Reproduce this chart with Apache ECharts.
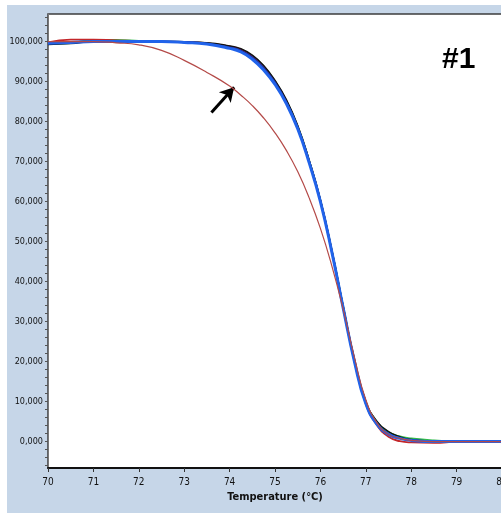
<!DOCTYPE html>
<html>
<head>
<meta charset="utf-8">
<script src="https://cdn.jsdelivr.net/npm/echarts@6/dist/echarts.min.js"></script>
<style>
  html, body { margin: 0; padding: 0; background: #fff; }
  #wrap { position: relative; width: 501px; height: 513px; background: #fff; }
  #bg { position: absolute; left: 7px; top: 5px; right: 0; bottom: 0; background: #c6d6e8; }
  #chart { position: absolute; left: 0; top: 0; width: 501px; height: 513px; }
</style>
</head>
<body>
<div id="wrap">
  <div id="bg"></div>
  <div id="chart"></div>
</div>
<script>
// 温度 (°C)
const temps = [70, 70.5, 71, 71.5, 72, 72.5, 73, 73.5, 74, 74.25, 74.5, 74.75, 75, 75.25, 75.5, 75.75, 76, 76.25, 76.5, 76.75, 77, 77.25, 77.5, 77.75, 78, 78.5, 79, 79.5, 80];
const xTicks = [70, 71, 72, 73, 74, 75, 76, 77, 78, 79, 80];
const yTicks = [0, 10, 20, 30, 40, 50, 60, 70, 80, 90, 100];

// melting curves (relative signal %)
const blueVals  = [99.6, 99.8, 100, 100, 100, 100, 99.8, 99.4, 98.3, 97.4, 95.6, 92.9, 89.3, 84.5, 78.2, 69.8, 60.0, 47.5, 33.5, 20.0, 9.5, 4.3, 1.8, 0.8, 0.3, 0, 0, 0, 0];
const navyVals  = [99.7, 99.9, 100, 100, 100, 100, 99.9, 99.5, 98.6, 97.8, 96.1, 93.5, 89.9, 85.0, 78.7, 70.2, 60.3, 47.8, 33.7, 20.2, 9.7, 4.5, 2.0, 0.9, 0.4, 0.1, 0, 0, 0];
const blackVals = [99.3, 99.5, 100, 100, 100, 100, 99.9, 99.7, 98.9, 98.2, 96.6, 94.0, 90.3, 85.5, 79.0, 70.5, 60.5, 48.0, 34.0, 20.5, 10.0, 5.0, 2.5, 1.2, 0.5, 0.1, 0, 0, 0];
const greenVals = [99.4, 99.6, 100.4, 100.4, 100.2, 100, 99.9, 99.6, 98.8, 98.0, 96.4, 93.8, 90.1, 85.2, 78.8, 70.3, 60.3, 47.8, 33.8, 20.3, 9.9, 4.9, 2.4, 1.3, 0.8, 0.3, 0.1, 0, 0];
const redVals   = [99.8, 100.5, 100.5, 100.3, 100.1, 100, 99.9, 99.6, 98.8, 98.0, 96.3, 93.6, 90.0, 85.1, 78.6, 70.1, 60.2, 47.6, 33.6, 20.0, 9.4, 4.0, 1.2, 0.1, -0.2, -0.3, 0, 0.1, 0.1];
const tealVals  = [99.8, 99.9, 100, 100, 100, 100, 99.8, 99.4, 98.4, 97.5, 95.8, 93.1, 89.5, 84.7, 78.4, 70.0, 60.1, 47.6, 33.6, 20.1, 9.6, 4.4, 1.9, 0.8, 0.3, 0, 0, 0, 0];
const outlierVals = [100, 100, 100, 99.7, 99.2, 97.8, 95.3, 92.3, 88.9, 86.6, 84.0, 80.9, 77.2, 72.8, 67.5, 61.0, 53.3, 44.0, 33.2, 21.0, 10.5, 4.6, 1.8, 0.8, 0.3, 0, 0, 0, 0];

// arrow pointing at the outlier curve
const arrowFrom = [73.6, 82.3];
const arrowTo = [74.1, 88.6];

const narrow = "'Liberation Sans Narrow', 'DejaVu Sans Condensed', 'Liberation Sans', sans-serif";

function pairs(vals) {
  return temps.map((t, i) => [t, vals[i]]);
}

function curve(name, vals, color, width, z) {
  return {
    name: name,
    type: "line",
    data: pairs(vals),
    smooth: true,
    showSymbol: false,
    z: z,
    lineStyle: { color: color, width: width },
    emphasis: { disabled: true },
  };
}

// 小刻度
const yMinor = [];
for (let v = -6; v <= 106; v += 2) yMinor.push(v);

const myChart = echarts.init(document.getElementById("chart"), null, { renderer: "canvas" });

const series = [
  curve("teal", tealVals, "#1c96cc", 1.5, 2),
  curve("green", greenVals, "#2fb84c", 1.8, 3),
  curve("red", redVals, "#c3262a", 1.8, 3),
  curve("black", blackVals, "#141414", 1.5, 3),
  curve("navy", navyVals, "#1c2c9c", 1.5, 4),
  curve("blue", blueVals, "#2163ea", 3, 5),
  curve("outlier", outlierVals, "#b44a48", 1.2, 6),
];
series[6].markLine = {
  silent: true,
  symbol: ["none", "arrow"],
  symbolSize: [12, 14],
  label: { show: false },
  lineStyle: { color: "#000", width: 3, type: "solid" },
  data: [[{ coord: arrowFrom }, { coord: arrowTo }]],
};

const option = {
  backgroundColor: "transparent",
  animation: false,
  grid: {
    left: 48,
    right: -1,
    top: 14,
    bottom: 45,
    containLabel: false,
    outerBoundsMode: "none",
    show: true,
    backgroundColor: "#fff",
    borderColor: "#3c3c3c",
    borderWidth: 1.5,
  },
  xAxis: {
    type: "value",
    min: 70,
    max: 80,
    name: "Temperature (°C)",
    nameLocation: "middle",
    nameGap: 24,
    nameTextStyle: { fontFamily: narrow, fontWeight: "bold", fontSize: 11, color: "#111" },
    axisLine: { show: true, onZero: false, lineStyle: { color: "#111", width: 2 } },
    axisTick: { show: true, length: 4, customValues: xTicks, lineStyle: { color: "#333" } },
    axisLabel: { customValues: xTicks, fontFamily: narrow, fontSize: 10, color: "#111", margin: 9 },
    splitLine: { show: false },
  },
  yAxis: {
    type: "value",
    min: -6.6,
    max: 106.9,
    name: "Relative Signal (%)",
    nameLocation: "middle",
    nameGap: 30,
    nameRotate: 90,
    nameTextStyle: { fontFamily: "'Liberation Sans', Arial, sans-serif", fontWeight: "bold", fontSize: 11, color: "#111" },
    axisLine: { show: true, onZero: false, lineStyle: { color: "#777", width: 1 } },
    axisTick: { show: true, length: 3, customValues: yMinor, lineStyle: { color: "#555" } },
    axisLabel: {
      customValues: yTicks,
      fontFamily: narrow,
      fontSize: 9,
      color: "#111",
      margin: 5,
      formatter: v => v.toFixed(3).replace(".", ","),
    },
    splitLine: { show: false },
  },
  graphic: [
    {
      type: "text",
      left: 442,
      top: 45,
      style: { text: "#1", font: "bold 30px 'Liberation Sans', Arial, sans-serif", fill: "#000" },
    },
  ],
  series: series,
};

myChart.setOption(option);
</script>
</body>
</html>
